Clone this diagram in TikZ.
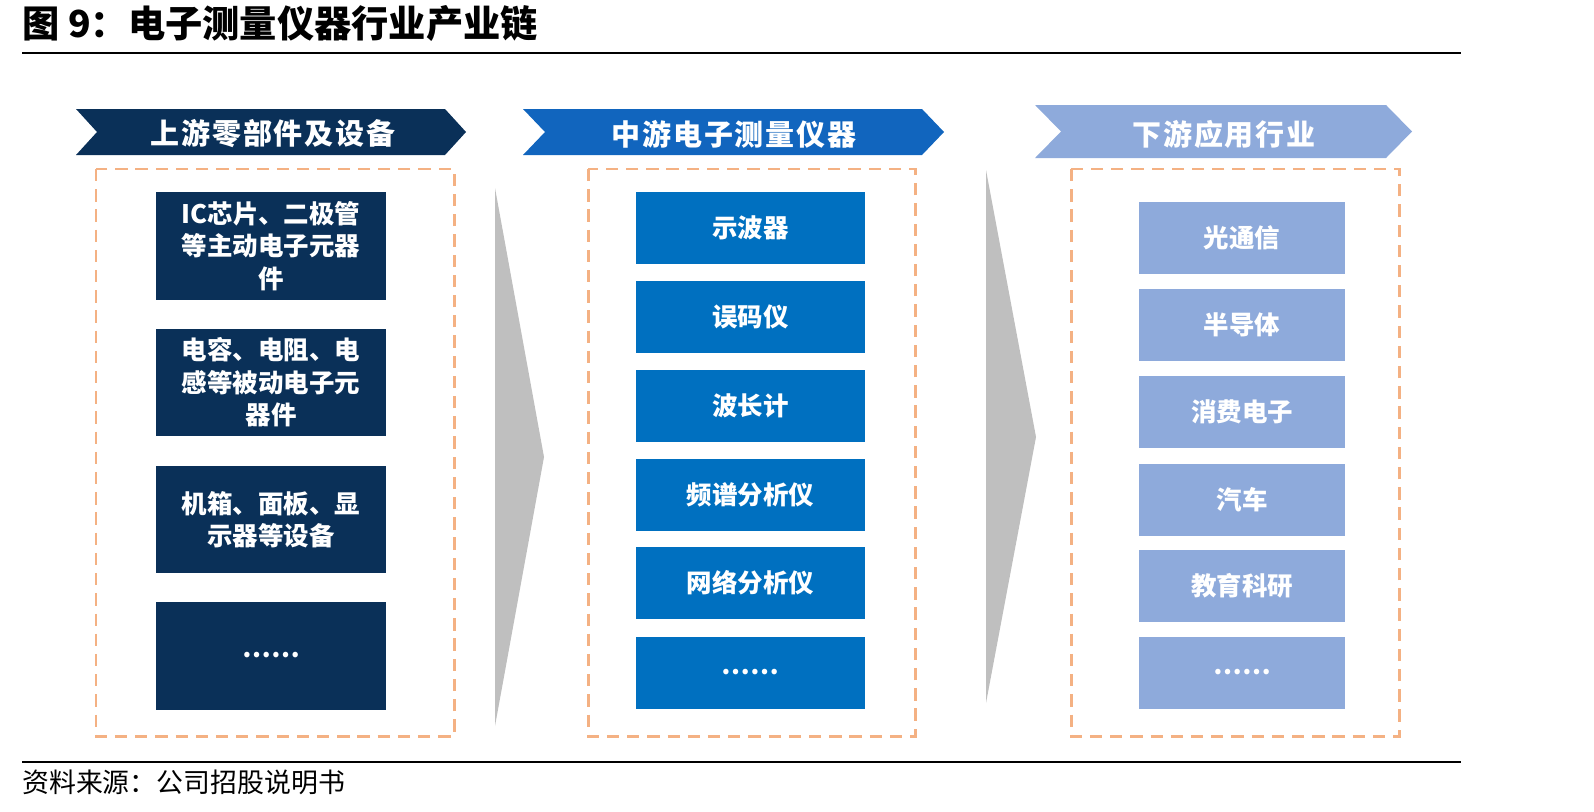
\documentclass[tikz,border=0pt]{standalone}
\usepackage{fontspec}
\setmainfont{Noto Sans CJK SC}
\definecolor{navy}{RGB}{10,48,88}
\definecolor{midblue}{RGB}{0,112,192}
\definecolor{headblue}{RGB}{17,101,190}
\definecolor{lightblue}{RGB}{142,170,219}
\definecolor{dashorange}{RGB}{244,177,131}
\definecolor{arrowgrey}{RGB}{191,191,191}
\tikzset{
  head/.style={text=white,inner sep=0pt,
    font=\fontsize{16.5}{20}\selectfont\bfseries\addfontfeatures{LetterSpace=6}},
  item/.style={fill=#1,text=white,align=center,inner sep=0pt,
    font=\fontsize{14.5}{18.5}\selectfont\bfseries},
  upbox/.style={item=navy,minimum width=4.6cm,minimum height=2.16cm},
  midbox/.style={item=midblue,minimum width=4.58cm,minimum height=1.44cm},
  downbox/.style={item=lightblue,minimum width=4.12cm,minimum height=1.44cm},
  dashbox/.style={draw=dashorange,line width=1.7pt,dash pattern=on 7pt off 4.5pt},
}
\begin{document}
\begin{tikzpicture}[x=0.02cm,y=-0.02cm]
  \useasboundingbox (0,0) rectangle (1594,811);
  % Title and rules
  \node[anchor=west,inner sep=0pt,font=\fontsize{21.2}{24}\selectfont\bfseries]
    (title) at (22,24) {图 9：电子测量仪器行业产业链};
  \draw[line width=1.1pt] (22,53) -- (1461,53);
  \draw[line width=1.4pt] (22,762) -- (1461,762);
  \node[anchor=west,inner sep=0pt,font=\fontsize{15.3}{18}\selectfont]
    (source) at (22,782) {资料来源：公司招股说明书};
  % Headers
  \fill[navy] (76,109) -- (445,109) -- (466,132) -- (445,155) -- (76,155) -- (97,132) -- cycle;
  \node[head] (upHead) at (273,134) {上游零部件及设备};
  \fill[headblue] (523,109) -- (922,109) -- (944,132) -- (922,155) -- (523,155) -- (545,132) -- cycle;
  \node[head] (midHead) at (734,134) {中游电子测量仪器};
  \fill[lightblue] (1035,105) -- (1386,105) -- (1412,131.5) -- (1386,158) -- (1035,158) -- (1061,131.5) -- cycle;
  \node[head] (downHead) at (1224,134) {下游应用行业};
  % Dashed frames
  \draw[dashbox] (96,169) rectangle (454,736);
  \draw[dashbox] (588,169) rectangle (915,736);
  \draw[dashbox] (1071,169) rectangle (1399,736);
  % Grey arrows
  \fill[arrowgrey] (495,188) -- (544,457) -- (495,726) -- cycle;
  \fill[arrowgrey] (986,170) -- (1036,437) -- (986,703) -- cycle;
  % Upstream
  \node[upbox] (up1) at (271,246) {IC芯片、二极管\\等主动电子元器\\件};
  \node[upbox] (up2) at (271,382.5) {电容、电阻、电\\感等被动电子元\\器件};
  \node[upbox] (up3) at (271,519.5) {机箱、面板、显\\示器等设备};
  \node[upbox] (up4) at (271,655.5) {……};
  % Midstream
  \node[midbox] (mid1) at (750.5,228) {示波器};
  \node[midbox] (mid2) at (750.5,317) {误码仪};
  \node[midbox] (mid3) at (750.5,406) {波长计};
  \node[midbox] (mid4) at (750.5,494.5) {频谱分析仪};
  \node[midbox] (mid5) at (750.5,583) {网络分析仪};
  \node[midbox] (mid6) at (750.5,672.5) {……};
  % Downstream
  \node[downbox] (down1) at (1242,238) {光通信};
  \node[downbox] (down2) at (1242,325) {半导体};
  \node[downbox] (down3) at (1242,412) {消费电子};
  \node[downbox] (down4) at (1242,500) {汽车};
  \node[downbox] (down5) at (1242,586) {教育科研};
  \node[downbox] (down6) at (1242,672.5) {……};
\end{tikzpicture}
\end{document}
